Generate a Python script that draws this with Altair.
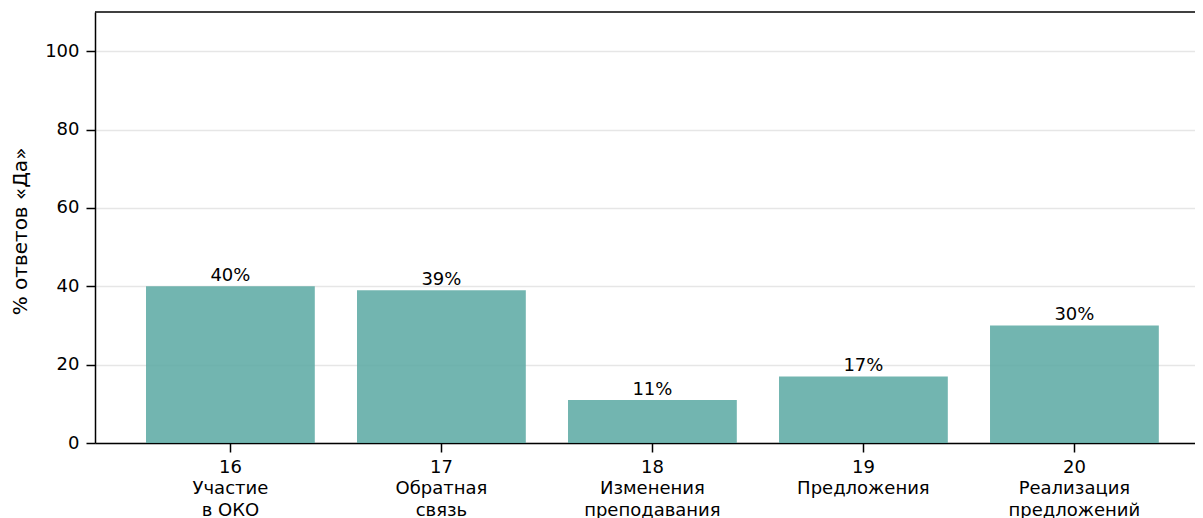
import altair as alt
import pandas as pd

nums = ["16", "17", "18", "19", "20"]
names = ["Участие\nв ОКО", "Обратная\nсвязь", "Изменения\nпреподавания", "Предложения", "Реализация\nпредложений"]
values = [40, 39, 11, 17, 30]

df = pd.DataFrame({
    "cat": [n + "\n" + s for n, s in zip(nums, names)],
    "value": values,
})
df["label"] = [f"{v}%" for v in values]

FONT = "DejaVu Sans"
FS = 18
W, H = 1100, 431

xenc = alt.X(
    "cat:N", sort=None,
    scale=alt.Scale(paddingInner=0.2, paddingOuter=0.2066, align=0.585),
    axis=alt.Axis(title=None, labelAngle=0, labelExpr="split(datum.label, '\\n')",
                  labelFont=FONT, labelFontSize=FS, labelColor="black",
                  labelLineHeight=21.5, labelPadding=6, labelBaseline="top",
                  tickSize=9, tickWidth=1.5, tickColor="black",
                  domainColor="black", domainWidth=1.5, grid=False),
)
yenc = alt.Y(
    "value:Q",
    scale=alt.Scale(domain=[0, 110], nice=False),
    axis=alt.Axis(title="% ответов «Да»", values=[0, 20, 40, 60, 80, 100],
                  labelFont=FONT, labelFontSize=FS, labelColor="black", labelPadding=7,
                  tickSize=9, tickWidth=1.5, tickColor="black",
                  domainColor="black", domainWidth=1.5,
                  grid=True, gridColor="#e6e6e6", gridWidth=1.5,
                  titleFont=FONT, titleFontSize=20, titleFontWeight="normal",
                  titleColor="black", titleAngle=-90, titleX=-75, titleY=219,
                  titleAlign="center", titleBaseline="middle"),
)

base = alt.Chart(df)
bars = base.mark_bar(color="#59a8a2", opacity=0.85).encode(x=xenc, y=yenc)
texts = base.mark_text(baseline="bottom", dy=-1, font=FONT, fontSize=FS, color="black").encode(
    x=alt.X("cat:N", sort=None), y="value:Q", text="label:N")
top = alt.Chart(alt.Data(values=[{"a": 1}])).mark_rule(color="black", strokeWidth=1.5).encode(
    x=alt.value(0), x2=alt.value(W), y=alt.value(0))

chart = alt.layer(bars, texts, top).properties(
    width=W, height=H,
    autosize=alt.AutoSizeParams(type="none"),
    padding={"left": 87, "top": 4, "right": 0, "bottom": 75},
).configure_view(stroke=None)

chart.save("out.html", embed_options={"renderer": "svg", "actions": False})
